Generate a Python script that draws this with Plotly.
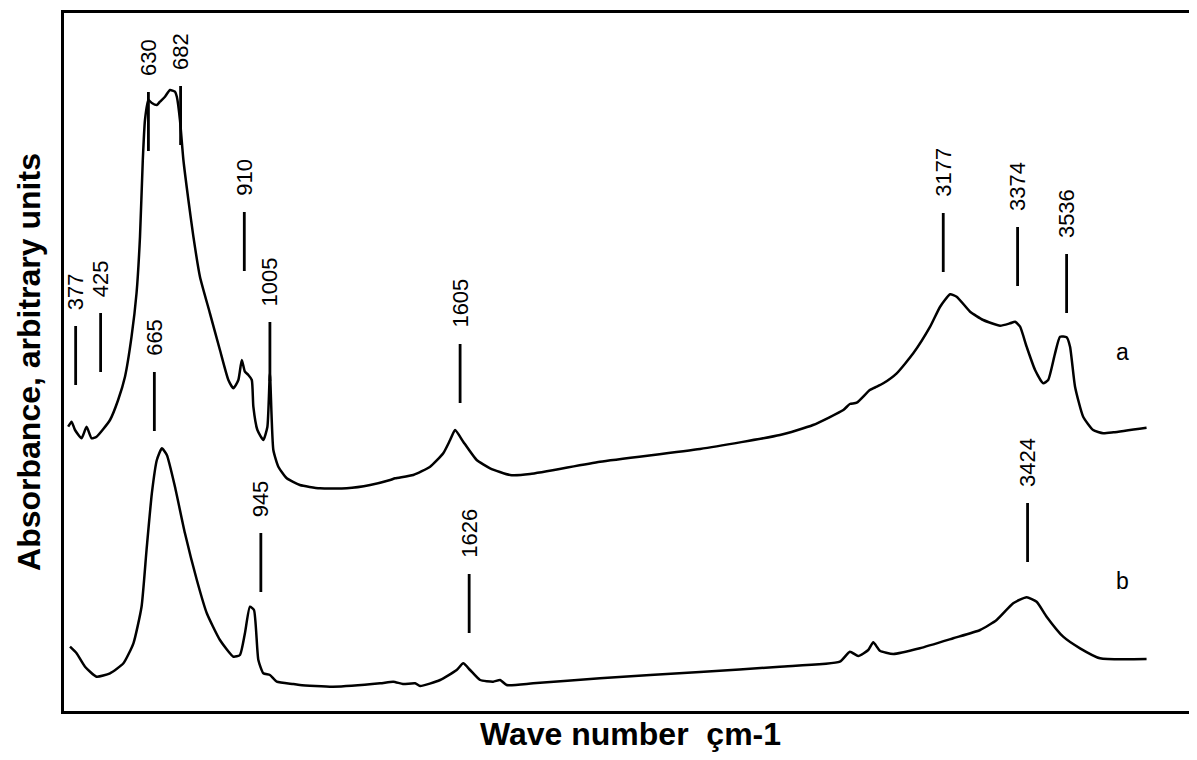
import plotly.graph_objects as go

# Spectrum a (wavenumber cm-1, absorbance a.u.)
wn_a = [350, 361, 372, 393, 409, 425, 441, 484, 510, 532, 553, 569, 580, 589, 596, 607,
        618, 634, 644, 660, 676, 692, 698, 708, 719, 735, 751, 772, 804, 836, 863, 879,
        895, 906, 916, 927, 938, 943, 956, 975, 988, 996, 1007, 1023, 1050, 1092, 1156,
        1242, 1317, 1381, 1397, 1455, 1509, 1551, 1573, 1589, 1615, 1658, 1701, 1765,
        1829, 2053, 2373, 2629, 2735, 2832, 2853, 2875, 2917, 2939, 2960, 3003, 3056,
        3110, 3142, 3174, 3195, 3238, 3280, 3334, 3366, 3382, 3398, 3419, 3446, 3472,
        3488, 3510, 3526, 3547, 3558, 3574, 3600, 3632, 3664, 3697, 3803]
abs_a = [2.843, 2.893, 2.81, 2.727, 2.843, 2.727, 2.743, 2.91, 3.11, 3.343, 3.743, 4.18,
         4.743, 5.51, 5.91, 6.11, 6.08, 6.06, 6.093, 6.143, 6.21, 6.193, 6.143, 5.91, 5.51,
         5.11, 4.743, 4.343, 3.977, 3.61, 3.31, 3.227, 3.31, 3.51, 3.393, 3.36, 3.31, 3.043,
         2.81, 2.71, 2.843, 3.377, 2.61, 2.443, 2.327, 2.26, 2.227, 2.227, 2.26, 2.31, 2.327,
         2.36, 2.443, 2.577, 2.71, 2.81, 2.693, 2.51, 2.427, 2.36, 2.37, 2.493, 2.62, 2.76,
         2.86, 3.01, 3.07, 3.083, 3.21, 3.243, 3.277, 3.377, 3.577, 3.843, 4.043, 4.167,
         4.143, 3.993, 3.91, 3.853, 3.877, 3.893, 3.843, 3.643, 3.41, 3.277, 3.31, 3.577,
         3.743, 3.737, 3.643, 3.243, 2.943, 2.81, 2.777, 2.787, 2.833]

# Spectrum b
wn_b = [356, 377, 404, 441, 484, 527, 559, 585, 601, 618, 634, 650, 666, 692, 724, 762,
        794, 836, 879, 900, 916, 932, 945, 959, 975, 996, 1018, 1071, 1092, 1198, 1349,
        1391, 1422, 1461, 1477, 1541, 1594, 1615, 1637, 1669, 1711, 1733, 1754, 1839,
        2053, 2373, 2629, 2821, 2853, 2880, 2912, 2928, 2949, 2992, 3077, 3184, 3270,
        3323, 3376, 3419, 3451, 3483, 3536, 3590, 3654, 3803]
abs_b = [0.643, 0.577, 0.443, 0.343, 0.377, 0.477, 0.677, 1.043, 1.61, 2.177, 2.51, 2.627,
         2.56, 2.243, 1.777, 1.31, 0.977, 0.71, 0.543, 0.56, 0.777, 1.043, 1.01, 0.51, 0.377,
         0.36, 0.293, 0.27, 0.26, 0.243, 0.277, 0.293, 0.27, 0.277, 0.25, 0.31, 0.41, 0.477,
         0.41, 0.31, 0.293, 0.31, 0.26, 0.277, 0.327, 0.39, 0.443, 0.493, 0.593, 0.55, 0.61,
         0.687, 0.603, 0.57, 0.627, 0.727, 0.81, 0.91, 1.077, 1.137, 1.093, 0.943, 0.743,
         0.627, 0.527, 0.52]

# Peak labels, where each marker is drawn on the wavenumber scale, and its lower end
peaks_a = [377, 425, 630, 682, 910, 1005, 1605, 3177, 3374, 3536]
peaks_a_mark_wn = [374, 454, 607, 710, 914, 996, 1605, 3152, 3390, 3547]
peaks_a_level = [3.26, 3.39, 5.60, 5.66, 4.40, 3.30, 3.08, 4.39, 4.25, 3.98]
peaks_b = [665, 945, 1626, 3424]
peaks_b_mark_wn = [626, 967, 1634, 3422]
peaks_b_level = [2.80, 1.19, 0.78, 1.49]

series_names = ["a", "b"]
series_label_pos = [(3727, 3.59), (3727, 1.30)]

MARK_LEN = 0.59
FONT = "Arial, Liberation Sans, sans-serif"

fig = go.Figure()
for wn, ab, name in [(wn_a, abs_a, "a"), (wn_b, abs_b, "b")]:
    fig.add_trace(go.Scatter(x=wn, y=ab, mode="lines", name=name,
                             line=dict(color="black", width=2.5, shape="spline", smoothing=0.5),
                             showlegend=False, hoverinfo="skip"))

for peaks, marks, levels in [(peaks_a, peaks_a_mark_wn, peaks_a_level),
                             (peaks_b, peaks_b_mark_wn, peaks_b_level)]:
    for p, m, lv in zip(peaks, marks, levels):
        fig.add_shape(type="line", xref="x", yref="y", x0=m, x1=m, y0=lv, y1=lv + MARK_LEN,
                      line=dict(color="black", width=2.8))
        fig.add_annotation(x=m, y=lv + MARK_LEN, xref="x", yref="y", text=str(p),
                           textangle=-90, showarrow=False, xanchor="center", yanchor="bottom",
                           yshift=14, font=dict(family=FONT, size=22, color="black"))

for name, (lx, ly) in zip(series_names, series_label_pos):
    fig.add_annotation(x=lx, y=ly, xref="x", yref="y", text=name, showarrow=False,
                       font=dict(family=FONT, size=23, color="black"))

# page body has an 8 px margin; the figure is sized/offset so the plot box lands in place
fig.update_layout(
    width=1189, height=744,
    margin=dict(l=56, r=0, t=5, b=41, autoexpand=False),
    paper_bgcolor="white", plot_bgcolor="white",
    xaxis=dict(range=[336.7, 3964.5], showgrid=False, zeroline=False, showticklabels=False,
               ticks="", showline=True, mirror=True, linecolor="black", linewidth=3,
               automargin=False,
               title=dict(text="<b>Wave number  çm-1</b>", standoff=19,
                          font=dict(family=FONT, size=32, color="black"))),
    yaxis=dict(range=[0, 6.98], showgrid=False, zeroline=False, showticklabels=False,
               ticks="", showline=True, mirror=False, linecolor="black", linewidth=3,
               automargin=False,
               title=dict(text="<b>Absorbance, arbitrary units</b>", standoff=11,
                          font=dict(family=FONT, size=32, color="black"))),
)

fig.write_html("out.html")
